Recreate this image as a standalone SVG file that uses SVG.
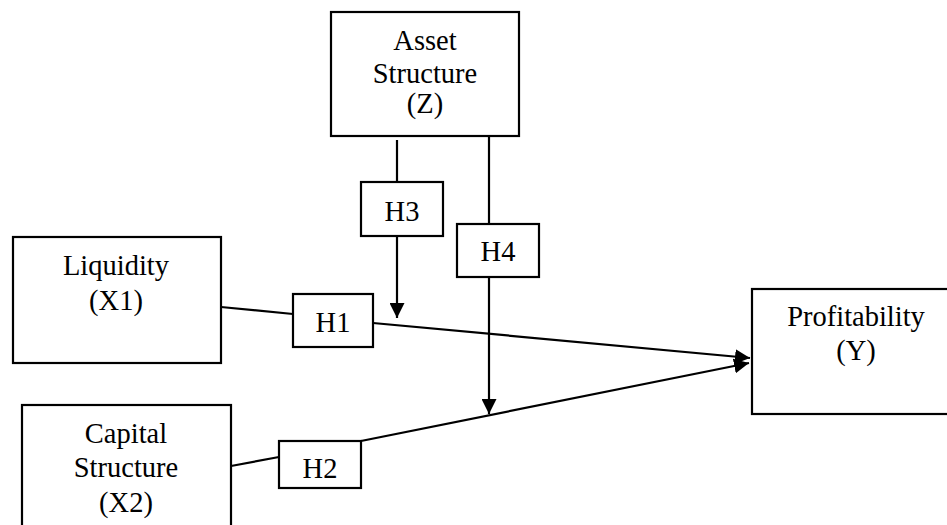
<svg xmlns="http://www.w3.org/2000/svg" width="947" height="525" viewBox="0 0 947 525">
<defs>
<style>
.box{fill:#fff;stroke:#000;stroke-width:2.2}
.t{font-family:'Liberation Serif','Times New Roman',Tinos,'DejaVu Serif',serif;font-size:28.5px;fill:#000;text-anchor:middle}
.c{fill:none;stroke:#000;stroke-width:2.2}
</style>
<marker id="ah" viewBox="0 0 10 10" refX="10" refY="5" markerWidth="15" markerHeight="15" markerUnits="userSpaceOnUse" orient="auto">
<path d="M0,0 L10,5 L0,10 Z" fill="#000"/>
</marker>
</defs>
<rect width="947" height="525" fill="#fff"/>
<g id="connectors">
<line class="c" x1="221" y1="307" x2="293" y2="314"/>
<line class="c" x1="373" y1="323" x2="750" y2="358" marker-end="url(#ah)"/>
<line class="c" x1="231" y1="466" x2="279" y2="457"/>
<line class="c" x1="361" y1="441" x2="749" y2="363" marker-end="url(#ah)"/>
<line class="c" x1="397" y1="140" x2="397" y2="182"/>
<line class="c" x1="397" y1="236" x2="397" y2="318" marker-end="url(#ah)"/>
<line class="c" x1="489" y1="136" x2="489" y2="224"/>
<line class="c" x1="489" y1="277" x2="489" y2="414" marker-end="url(#ah)"/>
</g>
<g id="asset">
<rect class="box" x="331" y="12" width="188" height="124"/>
<text class="t" x="425" y="50">Asset</text>
<text class="t" x="425" y="83">Structure</text>
<text class="t" x="425" y="113">(Z)</text>
</g>
<g id="liquidity">
<rect class="box" x="13" y="237" width="208" height="126"/>
<text class="t" x="116" y="275">Liquidity</text>
<text class="t" x="116" y="310">(X1)</text>
</g>
<g id="capital">
<rect class="box" x="22" y="405" width="209" height="130"/>
<text class="t" x="126" y="443">Capital</text>
<text class="t" x="126" y="477">Structure</text>
<text class="t" x="126" y="512">(X2)</text>
</g>
<g id="profitability">
<rect class="box" x="752" y="289" width="210" height="125"/>
<text class="t" x="856" y="326">Profitability</text>
<text class="t" x="856" y="360">(Y)</text>
</g>
<g id="h1">
<rect class="box" x="293" y="294" width="80" height="53"/>
<text class="t" x="333" y="332">H1</text>
</g>
<g id="h2">
<rect class="box" x="279" y="441" width="82" height="47"/>
<text class="t" x="320" y="478">H2</text>
</g>
<g id="h3">
<rect class="box" x="361" y="182" width="82" height="54"/>
<text class="t" x="402" y="221">H3</text>
</g>
<g id="h4">
<rect class="box" x="457" y="224" width="82" height="53"/>
<text class="t" x="498" y="261">H4</text>
</g>
</svg>
